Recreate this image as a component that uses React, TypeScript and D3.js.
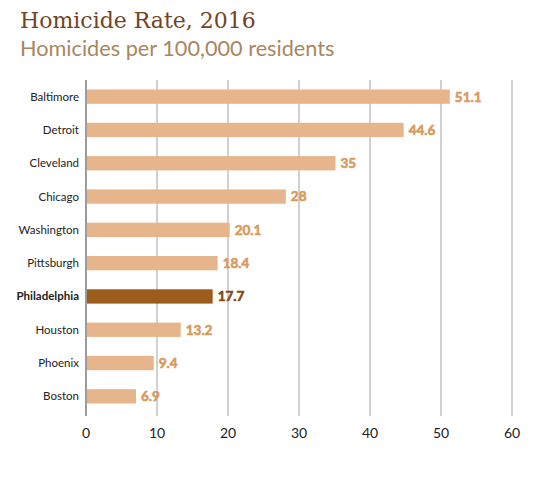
import React from "react";
import * as d3 from "d3";

const cities = ["Baltimore", "Detroit", "Cleveland", "Chicago", "Washington", "Pittsburgh", "Philadelphia", "Houston", "Phoenix", "Boston"];
const rates = [51.1, 44.6, 35, 28, 20.1, 18.4, 17.7, 13.2, 9.4, 6.9];
const valueLabels = ["51.1", "44.6", "35", "28", "20.1", "18.4", "17.7", "13.2", "9.4", "6.9"];
const highlight = "Philadelphia";
const xTicks = [0, 10, 20, 30, 40, 50, 60];
const title = "Homicide Rate, 2016";
const subtitle = "Homicides per 100,000 residents";

export default function App() {
  const W = 550, H = 481;
  const x = d3.scaleLinear().domain([0, 60]).range([86, 512]);
  const y = d3.scaleBand<string>().domain(cities).range([80, 413]).paddingInner(0.57).paddingOuter(0.285);
  const sans = "Lato, 'Open Sans', sans-serif";
  return (
    <svg width={W} height={H} style={{ position: "absolute", left: 0, top: 0, background: "#fff" }}>
      <text x={20} y={28} fontFamily="'DejaVu Serif', serif" fontSize={22} fill="#74431f">{title}</text>
      <text x={20} y={56} fontFamily={sans} fontSize={21.7} fill="#a98660">{subtitle}</text>
      {xTicks.slice(1).map(t => (
        <line key={t} x1={x(t)} x2={x(t)} y1={80} y2={416} stroke="#b8b8b8" strokeWidth={1.3} />
      ))}
      <line x1={x(0)} x2={x(0)} y1={80} y2={416} stroke="#666" strokeWidth={1.3} />
      {xTicks.map(t => (
        <text key={t} x={x(t)} y={438} textAnchor="middle" fontFamily={sans} fontSize={14} fill="#222">{t}</text>
      ))}
      {cities.map((c, i) => {
        const yy = y(c)!;
        const bw = y.bandwidth();
        const hi = c === highlight;
        const vc = hi ? "#85491a" : "#d99a5e";
        return (
          <g key={c}>
            <text x={79} y={yy + bw / 2} dy="0.35em" textAnchor="end" fontFamily={sans} fontSize={11.5} fontWeight={hi ? 700 : 400} fill="#222">{c}</text>
            <rect x={x(0) + 1} y={yy} width={x(rates[i]) - x(0)} height={bw} fill={hi ? "#9c5c1c" : "#e7b58b"} />
            <text x={x(rates[i]) + 6} y={yy + bw / 2} dy="0.36em" fontFamily={sans} fontSize={13.5} fontWeight={700}
              fill={vc} stroke={vc} strokeWidth={0.6}>{valueLabels[i]}</text>
          </g>
        );
      })}
    </svg>
  );
}
